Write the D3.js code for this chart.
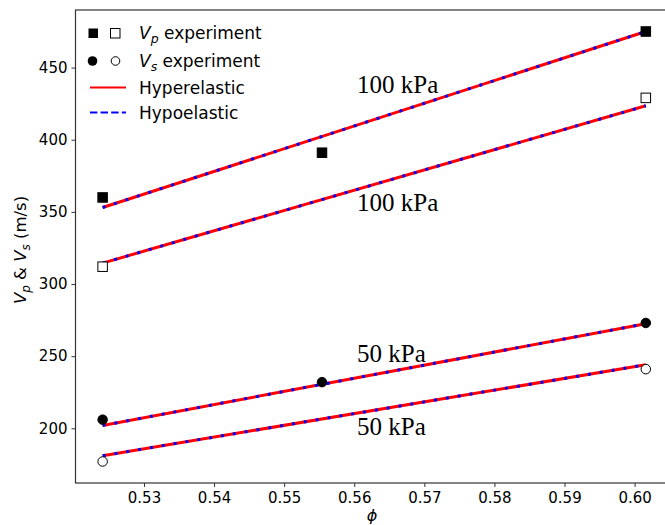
<!DOCTYPE html>
<meta charset="UTF-8">
<style>
body { margin: 0; background: #fff; }
text { font-family: "DejaVu Sans", sans-serif; }
.tick text { font-size: 15px; fill: #000; }
.kpa { font-family: "Liberation Serif", "Times New Roman", serif; font-size: 25px; }
</style>
<body>
<script src="https://d3js.org/d3.v7.min.js"></script>
<script>

// porosity values of the three samples
var phi = [0.5241, 0.5554, 0.6016];

// experiments (open markers only measured at two porosities)
var vp100 = [360, 391, 475];
var vp100open = [[0.5241, 312], [0.6016, 429]];
var vs50 = [206, 232, 273];
var vs50open = [[0.5241, 177], [0.6016, 241]];

// model lines, end points
var lineX = [0.5241, 0.6016];
var modelLines = [[353, 475], [314.5, 423.5], [202, 272.5], [181, 244]];

var xTicks = [0.53, 0.54, 0.55, 0.56, 0.57, 0.58, 0.59, 0.60];
var yTicks = [200, 250, 300, 350, 400, 450];

var width = 665, height = 525;
var plotL = 75.5, plotT = 10, plotB = 483, plotR = 673.5;

var svg = d3.select("body").append("svg")
    .attr("width", width)
    .attr("height", height);

var x = d3.scaleLinear().domain([0.52023, 0.60555]).range([plotL, plotR]);
var y = d3.scaleLinear().domain([162.1, 489.9]).range([plotB, plotT]);

// axes
svg.append("g")
    .attr("class", "x axis")
    .attr("transform", "translate(0," + plotB + ")")
    .call(d3.axisBottom(x).tickValues(xTicks).tickSize(4).tickPadding(5)
      .tickFormat(d3.format(".2f")));
svg.append("g")
    .attr("class", "y axis")
    .attr("transform", "translate(" + plotL + ",0)")
    .call(d3.axisLeft(y).tickValues(yTicks).tickSize(4).tickPadding(4));

svg.selectAll(".domain").remove();
svg.selectAll(".tick line").attr("stroke", "#333").attr("stroke-width", 1);

// frame (right spine is outside the window)
svg.append("rect")
    .attr("x", plotL).attr("y", plotT)
    .attr("width", plotR - plotL).attr("height", plotB - plotT)
    .attr("fill", "none").attr("stroke", "#333").attr("stroke-width", 1.2);

// model lines: red solid, blue dashed over it
var line = d3.line().x(function(d) { return x(d[0]); }).y(function(d) { return y(d[1]); });
modelLines.forEach(function(m) {
  var pts = lineX.map(function(v, i) { return [v, m[i]]; });
  svg.append("path").attr("d", line(pts))
      .attr("fill", "none").attr("stroke", "#ff0000").attr("stroke-width", 3);
  svg.append("path").attr("d", line(pts))
      .attr("fill", "none").attr("stroke", "#0000ff").attr("stroke-width", 3)
      .attr("stroke-dasharray", "3,9");
});

// markers
var s = 9.5;
function square(xv, yv, filled) {
  svg.append("rect")
      .attr("x", x(xv) - s / 2).attr("y", y(yv) - s / 2)
      .attr("width", s).attr("height", s)
      .attr("fill", filled ? "#000" : "#fff")
      .attr("stroke", "#000").attr("stroke-width", 1);
}
function circle(xv, yv, filled) {
  svg.append("circle")
      .attr("cx", x(xv)).attr("cy", y(yv)).attr("r", s / 2)
      .attr("fill", filled ? "#000" : "#fff")
      .attr("stroke", "#000").attr("stroke-width", 1);
}
phi.forEach(function(p, i) { square(p, vp100[i], true); });
vp100open.forEach(function(d) { square(d[0], d[1], false); });
phi.forEach(function(p, i) { circle(p, vs50[i], true); });
vs50open.forEach(function(d) { circle(d[0], d[1], false); });

// pressure labels
var kpa = [["100 kPa", 357, 93], ["100 kPa", 357, 211], ["50 kPa", 357, 362], ["50 kPa", 357, 435]];
kpa.forEach(function(k) {
  svg.append("text").attr("class", "kpa")
      .attr("x", k[1]).attr("y", k[2]).text(k[0]);
});

// axis titles
var yl = svg.append("text")
    .attr("transform", "translate(26,250) rotate(-90)")
    .attr("text-anchor", "middle")
    .style("font-size", "16.5px");
yl.append("tspan").attr("font-style", "italic").text("V");
yl.append("tspan").attr("font-style", "italic").attr("font-size", "12px").attr("dy", 4).text("p");
yl.append("tspan").attr("dy", -4).text(" & ");
yl.append("tspan").attr("font-style", "italic").text("V");
yl.append("tspan").attr("font-style", "italic").attr("font-size", "12px").attr("dy", 4).text("s");
yl.append("tspan").attr("dy", -4).text(" (m/s)");

svg.append("text")
    .attr("x", 372).attr("y", 521)
    .attr("text-anchor", "middle")
    .attr("font-style", "italic")
    .style("font-size", "16px")
    .text("\u03d5");

// legend
var lg = svg.append("g");
lg.append("rect").attr("x", 88.5).attr("y", 28.5).attr("width", 9.5).attr("height", 9.5).attr("fill", "#000");
lg.append("rect").attr("x", 110.5).attr("y", 28.5).attr("width", 9.5).attr("height", 9.5)
    .attr("fill", "#fff").attr("stroke", "#000");
lg.append("circle").attr("cx", 92.5).attr("cy", 61).attr("r", 4.8).attr("fill", "#000");
lg.append("circle").attr("cx", 115.5).attr("cy", 61).attr("r", 4.3).attr("fill", "#fff").attr("stroke", "#000");
lg.append("line").attr("x1", 90).attr("x2", 126).attr("y1", 87.5).attr("y2", 87.5)
    .attr("stroke", "#ff0000").attr("stroke-width", 2);
lg.append("line").attr("x1", 90).attr("x2", 126).attr("y1", 112.5).attr("y2", 112.5)
    .attr("stroke", "#0000ff").attr("stroke-width", 2).attr("stroke-dasharray", "7.4,3.2");

function legendText(yv, sub, rest) {
  var t = lg.append("text").attr("x", 139).attr("y", yv).style("font-size", "17px");
  if (sub) {
    t.append("tspan").attr("font-style", "italic").text("V");
    t.append("tspan").attr("font-style", "italic").attr("font-size", "12.5px").attr("dy", 4).text(sub);
    t.append("tspan").attr("dy", -4).text(" " + rest);
  } else {
    t.text(rest);
  }
}
legendText(39, "p", "experiment");
legendText(66.5, "s", "experiment");
legendText(93.5, null, "Hyperelastic");
legendText(118.5, null, "Hypoelastic");

</script>
</body>
